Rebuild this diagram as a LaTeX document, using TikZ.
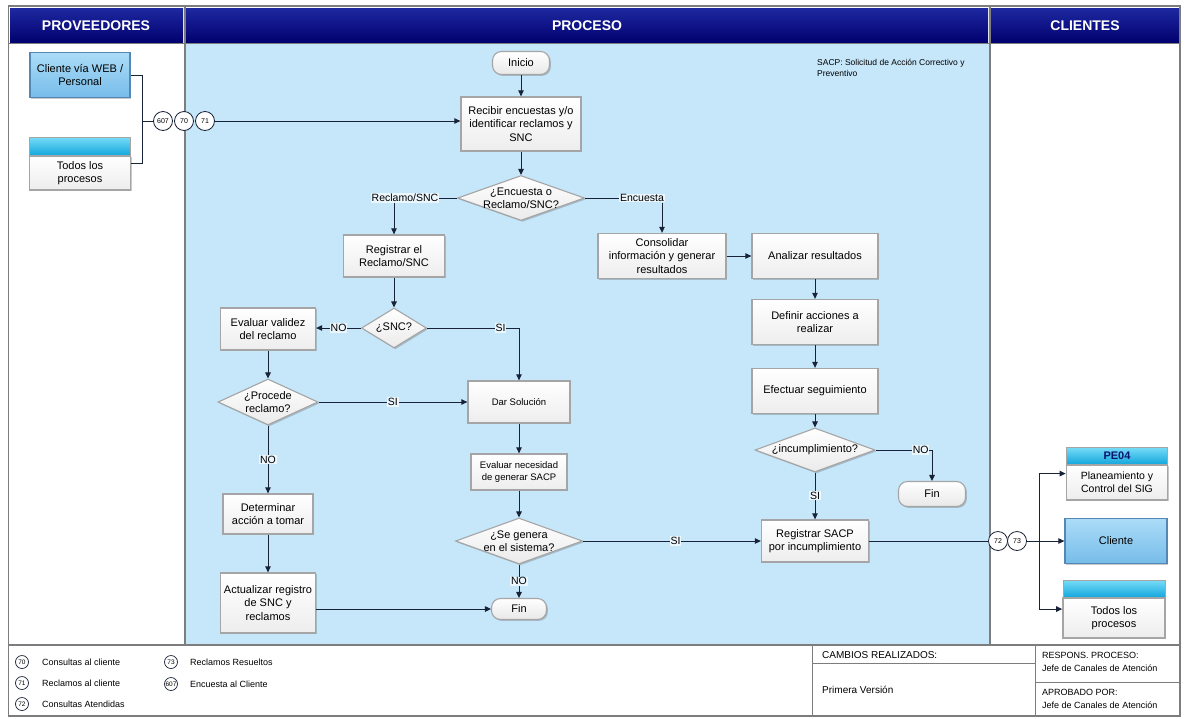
\documentclass[tikz,border=0pt]{standalone}
\usepackage{fontspec}
\setmainfont{Liberation Sans}
\usetikzlibrary{arrows.meta,shapes.geometric,shadows,fit}

\definecolor{lane}{RGB}{198,230,250}
\definecolor{navyT}{RGB}{30,40,160}
\definecolor{navyB}{RGB}{0,0,110}
\definecolor{lineclr}{RGB}{25,35,55}
\definecolor{frameclr}{RGB}{125,125,125}
\definecolor{bevel}{RGB}{165,165,165}
\definecolor{bandT}{RGB}{120,220,248}
\definecolor{bandB}{RGB}{15,165,220}
\definecolor{skyT}{RGB}{172,220,247}
\definecolor{skyB}{RGB}{118,188,234}
\definecolor{skyEdge}{RGB}{85,135,180}
\definecolor{pecode}{RGB}{10,20,110}

\newcommand\fs[2]{\fontsize{#1}{#2}\selectfont}

\begin{document}
\begin{tikzpicture}[x=1pt, y=-1pt,
  sz/.style 2 args={minimum width=#1pt, minimum height=#2pt},
  shade3d/.style={drop shadow={shadow xshift=1.4pt, shadow yshift=-1.4pt, opacity=0.35, fill=black!60}},
  box/.style={rectangle, draw=bevel, line width=1.3pt, top color=white, bottom color=gray!14, align=center, font=\fs{11}{13.5}, inner sep=1pt, shade3d},
  smallbox/.style={box, font=\fs{9.5}{12}},
  skybox/.style={rectangle, draw=skyEdge, line width=1.3pt, top color=skyT, bottom color=skyB, align=center, font=\fs{11}{13.5}, inner sep=1pt, shade3d},
  band/.style={rectangle, draw=bevel, line width=1pt, top color=bandT, bottom color=bandB, inner sep=0pt, font=\fs{11}{12}\bfseries, text=pecode},
  dec/.style={diamond, draw=bevel, line width=1.1pt, top color=white, bottom color=gray!16, inner sep=0pt, shade3d},
  dtext/.style={align=center, font=\fs{11}{13}, inner sep=0pt},
  term/.style={rectangle, rounded corners=9pt, draw=bevel, line width=1.1pt, top color=white, bottom color=gray!18, font=\fs{11}{13}, inner sep=1pt, shade3d},
  num/.style={circle, draw=lineclr, line width=0.8pt, fill=white, minimum size=19pt, inner sep=0pt, font=\fs{7}{8}},
  lnum/.style={circle, draw=lineclr, line width=0.7pt, fill=white, minimum size=13pt, inner sep=0pt, font=\fs{6.5}{7}},
  conn/.style={draw=lineclr, line width=1pt},
  arr/.style={conn, -{Triangle[length=6pt, width=5.5pt]}},
  lbl/.style={fill=lane!35!white, inner sep=0.8pt, font=\fs{10.5}{12}},
  hdr/.style={text=white, font=\fs{14}{16}\bfseries},
  note/.style={font=\fs{9}{11}, align=left, inner sep=0pt, anchor=west},
]
\useasboundingbox (0,0) rectangle (1185,718);
\fill[white] (0,0) rectangle (1185,718);

% ---------- lanes and headers ----------
\fill[lane] (185,43) rectangle (989,645);
\shade[top color=navyT, bottom color=navyB] (10,8) rectangle (183,43);
\shade[top color=navyT, bottom color=navyB] (186,8) rectangle (988,43);
\shade[top color=navyT, bottom color=navyB] (991,8) rectangle (1179,43);
\node[hdr] (hprov) at (96,26) {PROVEEDORES};
\node[hdr] (hproc) at (587,26) {PROCESO};
\node[hdr] (hcli) at (1085,26) {CLIENTES};

\draw[frameclr, line width=1.6pt] (8.5,6) rectangle (1180,716);
\draw[frameclr, line width=2pt] (184.5,6) -- (184.5,645);
\draw[frameclr, line width=2pt] (989.5,6) -- (989.5,645);
\draw[frameclr, line width=1pt] (8.5,43.5) -- (1180,43.5);
\draw[frameclr, line width=1.3pt] (8.5,645) -- (1180,645);
\draw[frameclr, line width=1pt] (812,645) -- (812,716);
\draw[frameclr, line width=1pt] (1035,645) -- (1035,716);
\draw[frameclr, line width=1pt] (812,663) -- (1035,663);
\draw[frameclr, line width=1pt] (1035,682) -- (1180,682);

% ---------- suppliers ----------
\node[skybox, sz={100}{45}] (cweb) at (80,75) {Cliente vía WEB /\\Personal};
\node[band, sz={101}{19}] (todos1band) at (80,146.5) {};
\node[box, sz={101}{34}] (todos1body) at (80,173) {Todos los\\procesos};
\node[fit=(todos1band)(todos1body), inner sep=0pt] (todos1) {};

\node[num] (c607) at (163,121) {607};
\node[num] (c70) at (184,121) {70};
\node[num] (c71) at (205,121) {71};
\coordinate (jL) at (142,121);

% ---------- process ----------
\node[note, font=\fs{8.5}{11}] (sacpnote) at (817,68) {SACP: Solicitud de Acción Correctivo y\\Preventivo};

\node[term, sz={57}{23}] (inicio) at (521,63) {Inicio};
\node[box, sz={120}{54}] (recibir) at (521,124) {Recibir encuestas y/o\\identificar reclamos y\\SNC};
\node[dec, sz={127}{45}, label={[dtext]center:{¿Encuesta o\\Reclamo/SNC?}}] (d1) at (521,198) {};

\node[lbl] (lRS) at (405,198) {Reclamo/SNC};
\node[lbl] (lEnc) at (642,198) {Encuesta};

\node[box, sz={101}{42}] (registrar) at (394,256) {Registrar el\\Reclamo/SNC};
\node[box, sz={128}{45}] (consolidar) at (662,256) {Consolidar\\información y generar\\resultados};
\node[box, sz={126}{45}] (analizar) at (815,256) {Analizar resultados};
\node[box, sz={126}{45}] (definir) at (815,322) {Definir acciones a\\realizar};
\node[box, sz={126}{45}] (efectuar) at (815,391) {Efectuar seguimiento};
\node[dec, sz={120}{44}, label={[dtext]center:{¿incumplimiento?}}] (d3) at (815,450) {};
\node[term, sz={67}{25}] (fin2) at (932,494) {Fin};
\node[box, sz={107}{42}] (sacp) at (815,541) {Registrar SACP\\por incumplimiento};

\node[dec, sz={65}{40}, label={[dtext]center:{¿SNC?}}] (snc) at (394,328) {};
\node[box, sz={95}{42}] (evalval) at (268,329) {Evaluar validez\\del reclamo};
\node[dec, sz={100}{46}, label={[dtext]center:{¿Procede\\reclamo?}}] (procede) at (268,402) {};
\node[smallbox, sz={102}{42}] (dar) at (519,402) {Dar Solución};
\node[smallbox, sz={96}{36}] (evalnec) at (519,472) {Evaluar necesidad\\de generar SACP};
\node[dec, sz={127}{46}, label={[dtext]center:{¿Se genera\\en el sistema?}}] (d2) at (519,541) {};
\node[term, sz={55}{21}] (fin1) at (519,609) {Fin};
\node[box, sz={90}{40}] (determinar) at (268,514) {Determinar\\acción a tomar};
\node[box, sz={95}{60}] (actualizar) at (268,603) {Actualizar registro\\de SNC y\\reclamos};

% ---------- customers ----------
\node[num] (c72) at (998,541) {72};
\node[num] (c73) at (1017,541) {73};
\coordinate (jR) at (1039,541);

\node[band, sz={101}{18}] (pe04band) at (1117,456) {PE04};
\node[box, font=\fs{10.5}{13}, sz={101}{35}] (pe04body) at (1117,482.5) {Planeamiento y\\Control del SIG};
\node[fit=(pe04band)(pe04body), inner sep=0pt] (pe04) {};
\node[skybox, sz={102}{45}] (cliente) at (1116,541) {Cliente};
\node[band, sz={102}{18}] (todos2band) at (1114,589) {};
\node[box, sz={102}{40}] (todos2body) at (1114,618) {Todos los\\procesos};
\node[fit=(todos2band)(todos2body), inner sep=0pt] (todos2) {};

% ---------- connectors ----------
\draw[conn] (cweb.east) -| (jL);
\draw[conn] (todos1.east) -| (jL);
\draw[conn] (jL) -- (c607);
\draw[arr] (c71.east) -- (c71.east -| recibir.west);

\draw[arr] (inicio) -- (recibir);
\draw[arr] (recibir) -- (d1);
\draw[conn] (d1.west) -- (lRS.east);
\draw[arr] (lRS.south -| registrar.north) -- (registrar.north);
\draw[conn] (d1.east) -- (lEnc.west);
\draw[arr] (lEnc.south -| consolidar.north) -- (consolidar.north);

\draw[arr] (consolidar) -- (analizar);
\draw[arr] (analizar) -- (definir);
\draw[arr] (definir) -- (efectuar);
\draw[arr] (efectuar) -- (d3);
\draw[arr] (d3.east) -| node[lbl, pos=0.4] {NO} (fin2.north);
\draw[arr] (d3.south) -- node[lbl] {SI} (sacp.north);

\draw[arr] (registrar) -- (snc);
\draw[arr] (snc.west) -- node[lbl] {NO} (evalval.east |- snc.west);
\draw[arr] (snc.east) -| node[lbl, pos=0.4] {SI} (dar.north);
\draw[arr] (evalval) -- (procede);
\draw[arr] (procede.east) -- node[lbl] {SI} (dar.west);
\draw[arr] (procede.south) -- node[lbl] {NO} (determinar.north);
\draw[arr] (determinar) -- (actualizar);
\draw[arr] (actualizar.east |- fin1.west) -- (fin1.west);

\draw[arr] (dar) -- (evalnec);
\draw[arr] (evalnec) -- (d2);
\draw[arr] (d2.south) -- node[lbl] {NO} (fin1.north);
\draw[arr] (d2.east) -- node[lbl, pos=0.52] {SI} (sacp.west);

\draw[conn] (sacp.east) -- (c72.west);
\draw[conn] (c73.east) -- (jR);
\draw[arr] (jR) |- (pe04.west);
\draw[arr] (jR) -- (cliente.west);
\draw[arr] (jR) |- (todos2.west);

% ---------- footer ----------
\node[lnum] (k70) at (22,662) {70};
\node[note] (t70) at (42,662) {Consultas al cliente};
\node[lnum] (k71) at (22,683) {71};
\node[note] (t71) at (42,683) {Reclamos al cliente};
\node[lnum] (k72) at (22,704) {72};
\node[note] (t72) at (42,704) {Consultas Atendidas};
\node[lnum] (k73) at (171,662) {73};
\node[note] (t73) at (190,662) {Reclamos Resueltos};
\node[lnum] (k607) at (171,684) {607};
\node[note] (t607) at (190,684) {Encuesta al Cliente};

\node[note, font=\fs{10}{11}] (cambios) at (822,655) {CAMBIOS REALIZADOS:};
\node[note, font=\fs{10}{11}] (version) at (822,690) {Primera Versión};
\node[note] (resp) at (1042,655) {RESPONS. PROCESO:};
\node[note] (respn) at (1042,668) {Jefe de Canales de Atención};
\node[note] (aprob) at (1042,692) {APROBADO POR:};
\node[note] (aprobn) at (1042,705) {Jefe de Canales de Atención};
\end{tikzpicture}
\end{document}
